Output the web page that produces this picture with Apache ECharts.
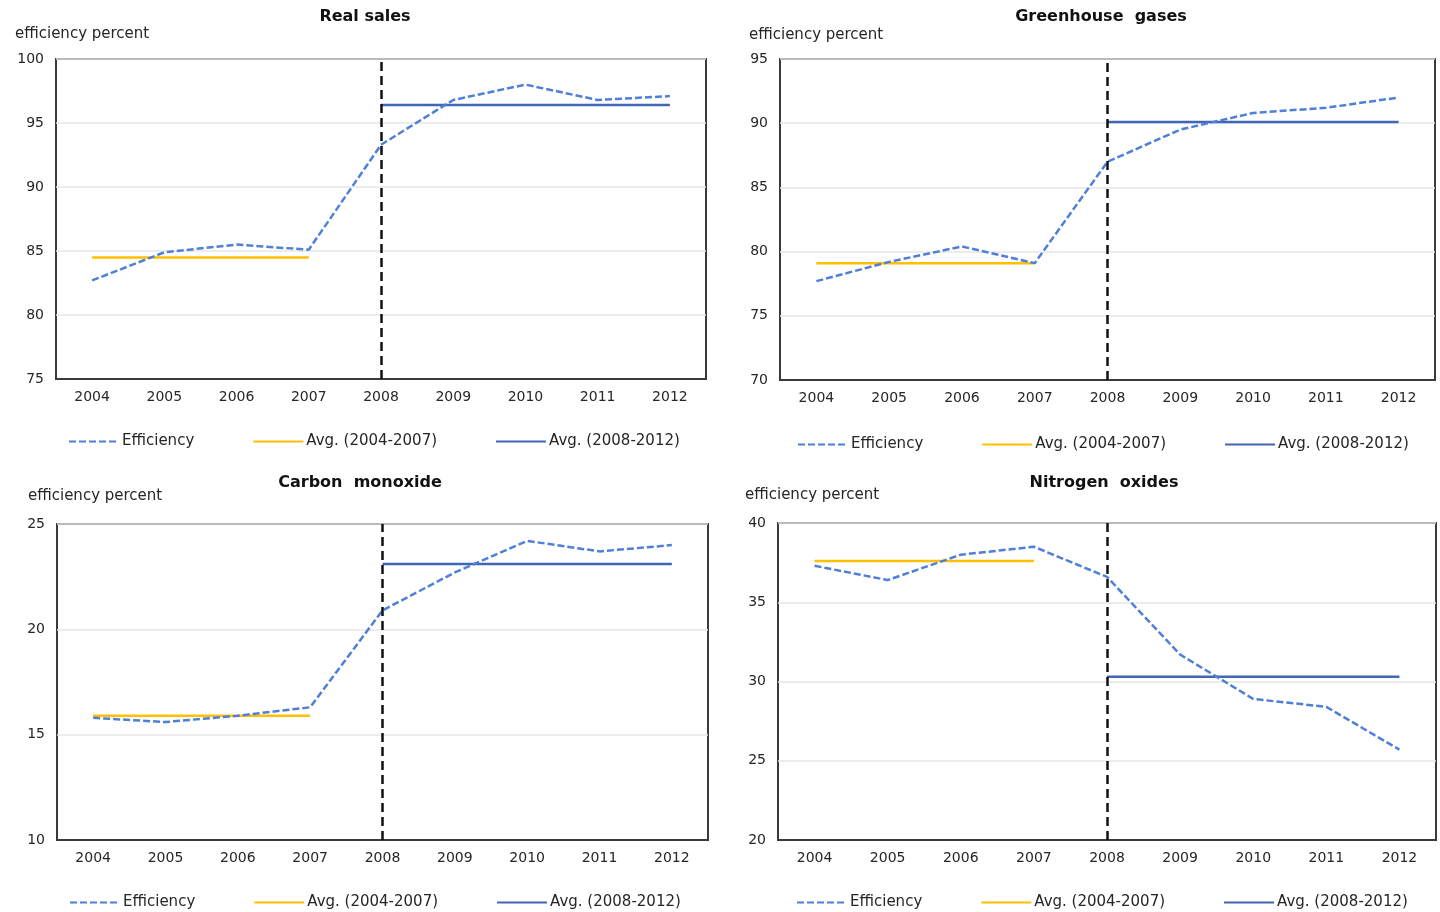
<!DOCTYPE html>
<html>
<head>
<meta charset="utf-8">
<script src="https://cdn.jsdelivr.net/npm/echarts@6/dist/echarts.min.js"></script>
<style>
  html, body { margin: 0; padding: 0; background: #fff; }
  #main { width: 1440px; height: 912px; }
</style>
</head>
<body>
<div id="main"></div>
<script>
// data
var years = ['2004', '2005', '2006', '2007', '2008', '2009', '2010', '2011', '2012'];

var realSales = [82.7, 84.9, 85.5, 85.1, 93.3, 96.8, 98.0, 96.8, 97.1];
var realSalesAvg = [84.5, 96.4];

var greenhouse = [77.7, 79.2, 80.4, 79.1, 87.0, 89.5, 90.8, 91.2, 92.0];
var greenhouseAvg = [79.1, 90.1];

var carbonMonoxide = [15.8, 15.6, 15.9, 16.3, 20.9, 22.7, 24.2, 23.7, 24.0];
var carbonMonoxideAvg = [15.9, 23.1];

var nitrogenOxides = [37.3, 36.4, 38.0, 38.5, 36.6, 31.7, 28.9, 28.4, 25.7];
var nitrogenOxidesAvg = [37.6, 30.3];

var panelTitles = ['Real sales', 'Greenhouse  gases', 'Carbon  monoxide', 'Nitrogen  oxides'];
var yMin = [75, 70, 10, 20];
var yMax = [100, 95, 25, 40];
var splitYear = '2008';

var panelData = [
    [realSales, realSalesAvg],
    [greenhouse, greenhouseAvg],
    [carbonMonoxide, carbonMonoxideAvg],
    [nitrogenOxides, nitrogenOxidesAvg]
];

// layout (page pixels)
var grids = [
    {left: 56, top: 59, width: 650, height: 320},
    {left: 780, top: 59, width: 655, height: 321},
    {left: 57, top: 524, width: 651, height: 316},
    {left: 778, top: 523, width: 658, height: 317}
];
var titlePos = [[360, 4], [1096, 4], [355, 470], [1099, 470]];
var unitPos = [[15, 27], [749, 28], [28, 489], [745, 488]];
var legendPos = [[68, 434], [797, 437], [69, 895], [796, 895]];

var font = 'DejaVu Sans, Verdana, sans-serif';
var effColor = '#4f7fd8';
var avgOldColor = '#ffc000';
var avgNewColor = '#4266b6';

var chart = echarts.init(document.getElementById('main'));

var title = [], grid = [], xAxis = [], yAxis = [], legend = [], series = [];

panelData.forEach(function (d, i) {
    var vals = d[0], avg = d[1];
    title.push({
        text: panelTitles[i],
        left: titlePos[i][0], top: titlePos[i][1], textAlign: 'center',
        textStyle: {fontFamily: font, fontSize: 16, fontWeight: 'bold', color: '#111'}
    });
    title.push({
        text: 'efficiency percent',
        left: unitPos[i][0], top: unitPos[i][1], padding: 0,
        textStyle: {fontFamily: font, fontSize: 15, fontWeight: 'normal', color: '#262626'}
    });
    grid.push({
        left: grids[i].left, top: grids[i].top, width: grids[i].width, height: grids[i].height,
        show: true, borderColor: '#3a3a3a', borderWidth: 2, containLabel: false
    });
    xAxis.push({
        type: 'category', gridIndex: i, data: years, boundaryGap: true,
        axisLine: {show: true, lineStyle: {color: '#3a3a3a', width: 2}},
        axisTick: {show: false},
        axisLabel: {fontFamily: font, fontSize: 14, color: '#262626', margin: 11}
    });
    yAxis.push({
        type: 'value', gridIndex: i, min: yMin[i], max: yMax[i], interval: 5,
        axisLine: {show: false}, axisTick: {show: false},
        axisLabel: {fontFamily: font, fontSize: 14, color: '#262626', margin: 12},
        splitLine: {lineStyle: {color: '#e6e6e6', width: 1.5}}
    });
    legend.push({
        left: legendPos[i][0], top: legendPos[i][1],
        itemWidth: 50, itemHeight: 14, itemGap: 58, padding: 0,
        itemStyle: {opacity: 0},
        data: ['Efficiency', 'Avg. (2004-2007)', 'Avg. (2008-2012)'],
        textStyle: {fontFamily: font, fontSize: 15, color: '#262626', padding: [0, 0, 0, -2]}
    });
    series.push({
        name: 'Efficiency', type: 'line', xAxisIndex: i, yAxisIndex: i,
        data: vals, symbol: 'none', z: 3,
        lineStyle: {color: effColor, width: 2.5, type: [7, 3]},
        itemStyle: {color: effColor},
        markLine: {
            silent: true, symbol: 'none', label: {show: false},
            lineStyle: {color: '#111', width: 2.5, type: [9, 5]},
            data: [{xAxis: splitYear}]
        }
    });
    series.push({
        name: 'Avg. (2004-2007)', type: 'line', xAxisIndex: i, yAxisIndex: i,
        data: years.map(function (y, k) { return k < 4 ? avg[0] : null; }),
        symbol: 'none', z: 2,
        lineStyle: {color: avgOldColor, width: 2.5},
        itemStyle: {color: avgOldColor}
    });
    series.push({
        name: 'Avg. (2008-2012)', type: 'line', xAxisIndex: i, yAxisIndex: i,
        data: years.map(function (y, k) { return k >= 4 ? avg[1] : null; }),
        symbol: 'none', z: 2,
        lineStyle: {color: avgNewColor, width: 2.5},
        itemStyle: {color: avgNewColor}
    });
});

chart.setOption({
    animation: false,
    backgroundColor: '#fff',
    title: title,
    grid: grid,
    xAxis: xAxis,
    yAxis: yAxis,
    legend: legend,
    series: series
});
</script>
</body>
</html>
